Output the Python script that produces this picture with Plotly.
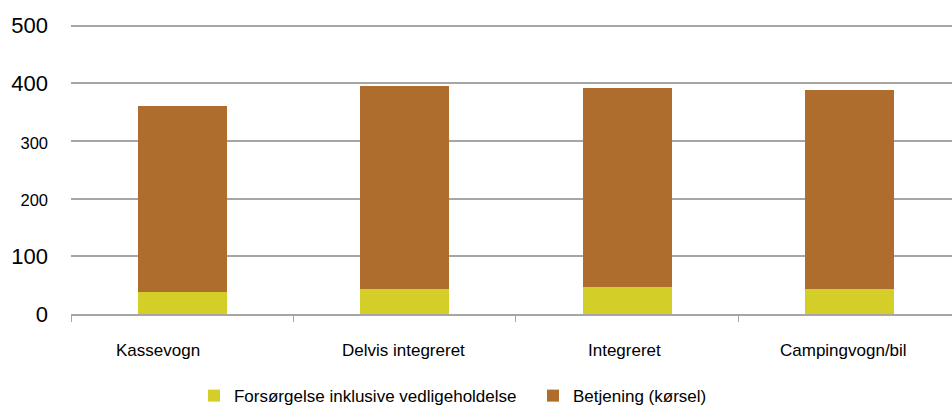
import plotly.graph_objects as go

categories = ["Kassevogn", "Delvis integreret", "Integreret", "Campingvogn/bil"]
forsorgelse = [39, 43, 46, 43]
betjening = [322, 352, 346, 346]

y_tick_values = [0, 100, 200, 300, 400, 500]
y_tick_labels = ["0", "100", "200", "300", "400", "500"]
y_tick_sizes = [22, 22, 16.5, 16.5, 22, 22]

# horizontal nudges (px) of the category captions below the axis
label_shifts = [-24, -1, -3, -6]

FONT = "Liberation Sans, Arial, sans-serif"

fig = go.Figure()
fig.add_trace(go.Bar(
    x=categories, y=forsorgelse, name="Forsørgelse inklusive vedligeholdelse",
    marker=dict(color="#D4CF28", line=dict(width=0)), width=0.4,
))
fig.add_trace(go.Bar(
    x=categories, y=betjening, name="Betjening (kørsel)",
    marker=dict(color="#AE6C2D", line=dict(width=0)), width=0.4,
))

for cat, dx in zip(categories, label_shifts):
    fig.add_annotation(
        x=cat, xref="x", y=0, yref="paper", yanchor="middle",
        yshift=-36, xshift=dx, text=cat, showarrow=False,
        font=dict(size=17, family=FONT, color="#000000"),
    )

ticktext = [f'<span style="font-size:{s}px">{t}</span>' for t, s in zip(y_tick_labels, y_tick_sizes)]

fig.update_layout(
    barmode="stack",
    width=952, height=405,
    margin=dict(l=71, r=0, t=24, b=91, autoexpand=False),
    paper_bgcolor="white", plot_bgcolor="white",
    font=dict(family=FONT, color="#000000"),
    showlegend=True,
    legend=dict(
        orientation="h", x=0.1396, y=-0.283, xanchor="left", yanchor="middle",
        font=dict(size=17, family=FONT), traceorder="normal",
        itemwidth=30, entrywidth=294,
    ),
    xaxis=dict(
        type="category", range=[-0.5, 3.46],
        showline=True, linecolor="#A6A6A6", linewidth=1.5,
        ticks="outside", tickson="boundaries", ticklen=6, tickcolor="#A6A6A6",
        showticklabels=False, showgrid=False,
    ),
    yaxis=dict(
        range=[0, 503], tickmode="array", tickvals=y_tick_values, ticktext=ticktext,
        showgrid=True, gridcolor="#A6A6A6", gridwidth=1.5,
        zeroline=False, showline=False, ticks="",
        tickfont=dict(size=22, family=FONT), ticklabelstandoff=22,
    ),
)

fig.write_html("out.html")
